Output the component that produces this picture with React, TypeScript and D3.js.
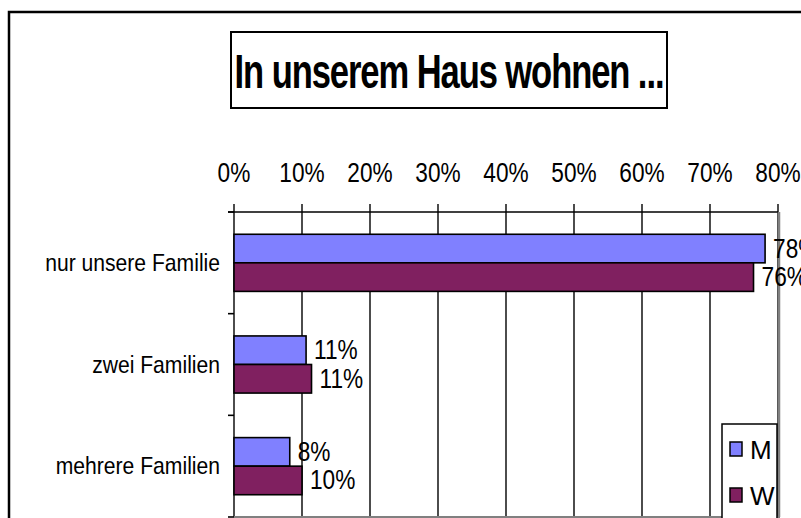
import React from "react";
import * as d3 from "d3";

const categories = ["nur unsere Familie", "zwei Familien", "mehrere Familien"];
const seriesNames = ["M", "W"];
const valuesM = [0.781, 0.106, 0.082];
const valuesW = [0.764, 0.114, 0.1];
const xTicks = [0, 0.1, 0.2, 0.3, 0.4, 0.5, 0.6, 0.7, 0.8];
const title = "In unserem Haus wohnen ...";

const colors = ["#8080FF", "#802060"];
const font = "'Liberation Sans', Arial, sans-serif";

export default function App() {
  const width = 801;
  const height = 518;
  const plot = { left: 234, right: 778, top: 212, bottom: 517 };

  const x = d3.scaleLinear().domain([0, 0.8]).range([plot.left, plot.right]);
  const y = d3
    .scaleBand()
    .domain(categories)
    .range([plot.top, plot.bottom])
    .padding(0);
  const inner = d3
    .scaleBand()
    .domain(seriesNames)
    .range([0, y.bandwidth()])
    .paddingInner(0)
    .paddingOuter(0.78);

  const pct = d3.format(".0%");
  const series = [valuesM, valuesW];
  const boundaries = categories.map((c) => y(c)).concat([plot.bottom]);

  return (
    <svg
      width={width}
      height={height}
      style={{ position: "absolute", left: 0, top: 0, background: "#fff" }}
      fontFamily={font}
    >
      {/* chart frame */}
      <rect x={9} y={12} width={820} height={540} fill="#fff" stroke="#000" strokeWidth={2.5} />

      {/* title */}
      <rect x={231} y={32} width={436} height={76} fill="#fff" stroke="#000" strokeWidth={2} />
      <text
        transform={`translate(449,88) scale(0.72,1)`}
        textAnchor="middle"
        fontSize={48}
        fontWeight="bold"
        letterSpacing={-1.5}
      >
        {title}
      </text>

      {/* gridlines */}
      {xTicks.map((t) => (
        <line key={"g" + t} x1={x(t)} x2={x(t)} y1={plot.top - 8} y2={plot.bottom} stroke="#000" strokeWidth={1.4} />
      ))}
      {/* top axis */}
      <line x1={plot.left - 6} x2={plot.right} y1={plot.top} y2={plot.top} stroke="#000" strokeWidth={1.6} />
      {xTicks.map((t) => (
        <text
          key={"t" + t}
          transform={`translate(${x(t)},182) scale(0.84,1)`}
          textAnchor="middle"
          fontSize={27}
        >
          {pct(t)}
        </text>
      ))}

      {/* category ticks */}
      {boundaries.map((b, i) => (
        <line key={"c" + i} x1={plot.left - 6} x2={plot.left} y1={b} y2={b} stroke="#000" strokeWidth={1.6} />
      ))}
      {categories.map((c) => (
        <text
          key={c}
          transform={`translate(220,${(y(c) as number) + y.bandwidth() / 2 + 8}) scale(0.88,1)`}
          textAnchor="end"
          fontSize={24}
        >
          {c}
        </text>
      ))}

      {/* plot area border */}
      <line x1={plot.right + 1} x2={plot.right + 1} y1={plot.top} y2={plot.bottom} stroke="#808080" strokeWidth={2.5} />
      <line x1={plot.left} x2={plot.right + 2} y1={plot.bottom} y2={plot.bottom} stroke="#808080" strokeWidth={2} />

      {/* bars */}
      {series.map((vals, si) =>
        categories.map((c, ci) => {
          const by = (y(c) as number) + (inner(seriesNames[si]) as number);
          return (
            <g key={c + si}>
              <rect
                x={x(0)}
                y={by}
                width={x(vals[ci]) - x(0)}
                height={inner.bandwidth()}
                fill={colors[si]}
                stroke="#000"
                strokeWidth={1.6}
              />
              <text
                transform={`translate(${x(vals[ci]) + 8},${by + inner.bandwidth() / 2 + 9}) scale(0.84,1)`}
                fontSize={27}
              >
                {pct(vals[ci])}
              </text>
            </g>
          );
        })
      )}

      {/* legend */}
      <rect x={722} y={424} width={55} height={120} fill="#fff" stroke="#000" strokeWidth={1.5} />
      {seriesNames.map((s, i) => (
        <g key={s} transform={`translate(730,${442 + i * 46})`}>
          <rect x={0} y={0} width={12} height={14} fill={colors[i]} stroke="#000" strokeWidth={1.5} />
          <text x={20} y={17} fontSize={26}>
            {s}
          </text>
        </g>
      ))}
    </svg>
  );
}
